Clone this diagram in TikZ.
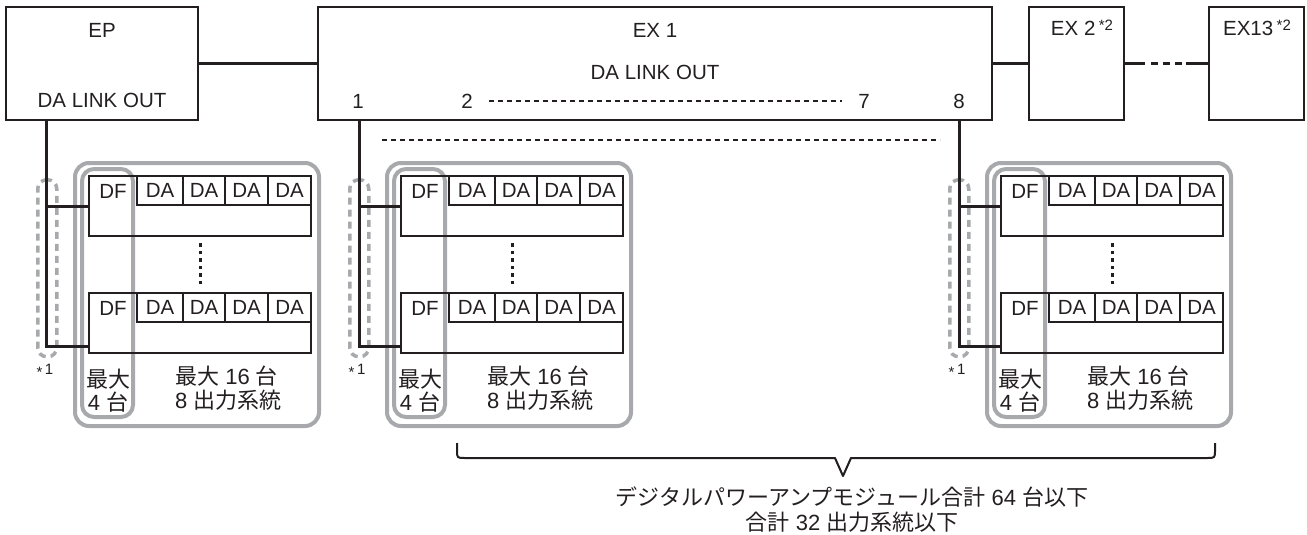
\documentclass[tikz,border=0pt]{standalone}
\usepackage{fontspec}
\setmainfont{Liberation Sans}
\newfontfamily\jp{Noto Sans CJK JP}
\definecolor{ink}{HTML}{231F20}
\definecolor{frame}{HTML}{A7A9AC}
\begin{document}
\begin{tikzpicture}[x=1pt,y=-1pt,
  box/.style={draw=ink,line width=1.8pt,inner sep=0pt,outer sep=0pt,anchor=north west},
  txt/.style={text=ink,inner sep=0pt,font=\fontsize{20.5}{24}\selectfont},
  jtxt/.style={text=ink,inner sep=0pt,font=\fontsize{22}{26}\selectfont},
  small/.style={text=ink,inner sep=0pt,font=\fontsize{15}{17}\selectfont},
  link/.style={draw=ink,line width=3.3pt},
  feed/.style={draw=ink,line width=3pt},
  dotl/.style={draw=ink,line width=2.8pt,dash pattern=on 5pt off 4pt},
  vdots/.style={draw=ink,line width=3pt,dash pattern=on 3.5pt off 4pt},
  grp/.style={draw=frame,line width=4pt,rounded corners=14pt,inner sep=0pt,outer sep=0pt,anchor=north west},
  bracket/.style={draw=frame,line width=3.5pt,rounded corners=9pt,dash pattern=on 7pt off 5pt,inner sep=0pt,anchor=north west},
  cell/.style={box,text=ink,font=\fontsize{20.5}{24}\selectfont},
  bracestyle/.style={draw=ink,line width=2pt,line join=round}
]
\useasboundingbox (0,0) rectangle (1307,535);

% top units
\node[box,minimum width=192pt,minimum height=113pt] (ep) at (6,7) {};
\node[txt] (eptitle) at (102,30) {EP};
\node[txt] (eplink) at (102,100) {DA LINK OUT};

\node[box,minimum width=674pt,minimum height=113pt] (ex1) at (318,7) {};
\node[txt] (ex1title) at (655,30) {EX 1};
\node[txt] (ex1link) at (655,72) {DA LINK OUT};
\node[txt] (p1) at (358,101) {1};
\node[txt] (p2) at (467,101) {2};
\node[txt] (p7) at (864,101) {7};
\node[txt] (p8) at (959,101) {8};
\draw[dotl] ([xshift=22pt]p2.center) -- ([xshift=-22pt]p7.center);

\node[box,minimum width=95pt,minimum height=113pt] (ex2) at (1029,7) {};
\node[txt] (ex2title) at (1082,28) {EX 2\,\raisebox{5pt}{\fontsize{15}{17}\selectfont *2}};
\node[box,minimum width=95pt,minimum height=113pt] (ex13) at (1209,7) {};
\node[txt] (ex13title) at (1257,28) {EX13\,\raisebox{5pt}{\fontsize{15}{17}\selectfont *2}};

\draw[link] (ep.east) -- (ex1.west);
\draw[link] (ex1.east) -- (ex2.west);
\draw[link,dash pattern=on 21pt off 6pt on 7pt off 5pt on 7pt off 5pt on 7pt off 4pt on 40pt] (ex2.east) -- (ex13.west);

\coordinate (dl) at (382,140);
\coordinate (dr) at (940,140);
\draw[dotl] (dl) -- (dr);

\coordinate (ta) at (46,120);
\coordinate (tb) at (359,120);
\coordinate (tc) at (959,120);

\foreach \o/\g/\src in {0/a/ta,312/b/tb,912/c/tc} {
  \begin{scope}[xshift=\o pt]
    \node[grp,minimum width=244pt,minimum height=263pt] (\g-outer) at (75,163) {};
    \node[grp,rounded corners=12pt,minimum width=51pt,minimum height=248pt] (\g-inner) at (82,169) {};
    \node[bracket,minimum width=19pt,minimum height=177pt] (\g-br) at (36,178) {};
    \foreach \r/\yy in {1/176,2/293} {
      \node[box,minimum width=222pt,minimum height=60pt] (\g-row\r) at (89,\yy) {};
      \node[txt] (\g-df\r) at (113,\yy+15) {DF};
      \node[cell,minimum width=46pt,minimum height=29pt] (\g-da\r a) at (137,\yy) {DA};
      \node[cell,minimum width=42pt,minimum height=29pt] (\g-da\r b) at (183,\yy) {DA};
      \node[cell,minimum width=43pt,minimum height=29pt] (\g-da\r c) at (225,\yy) {DA};
      \node[cell,minimum width=43pt,minimum height=29pt] (\g-da\r d) at (268,\yy) {DA};
    }
    \coordinate (\g-v1) at (200,243);
    \coordinate (\g-v2) at (200,286);
    \draw[vdots] (\g-v1) -- (\g-v2);
    \node[small] (\g-note) at (45,371) {\raisebox{-3pt}{*}\,1};
    \node[jtxt] (\g-m4a) at (108,379) {\jp 最大};
    \node[jtxt] (\g-m4b) at (108,402) {4 {\jp 台}};
    \node[jtxt,anchor=west] (\g-m16) at (175,376) {{\jp 最大} 16 {\jp 台}};
    \node[jtxt,anchor=west] (\g-out) at (175,400) {8 {\jp 出力系統}};
  \end{scope}
  \draw[feed] (\src) |- ([yshift=7pt]\g-row2.south west);
  \draw[feed] (\g-row1.west) -- (\g-row1.west -| \src);
}

% brace
\coordinate (bl) at (457,443);
\coordinate (br) at (1215,443);
\coordinate (tip) at (843,476);
\draw[bracestyle] (bl) -- (457,450) .. controls (457,458) .. (465,458) -- (835,458) -- (tip) -- (851,458) -- (1207,458) .. controls (1215,458) .. (1215,450) -- (br);
\node[jtxt] (sum1) at (852,497) {{\jp デジタルパワーアンプモジュール合計} 64 {\jp 台以下}};
\node[jtxt] (sum2) at (852,522) {{\jp 合計} 32 {\jp 出力系統以下}};
\end{tikzpicture}
\end{document}
